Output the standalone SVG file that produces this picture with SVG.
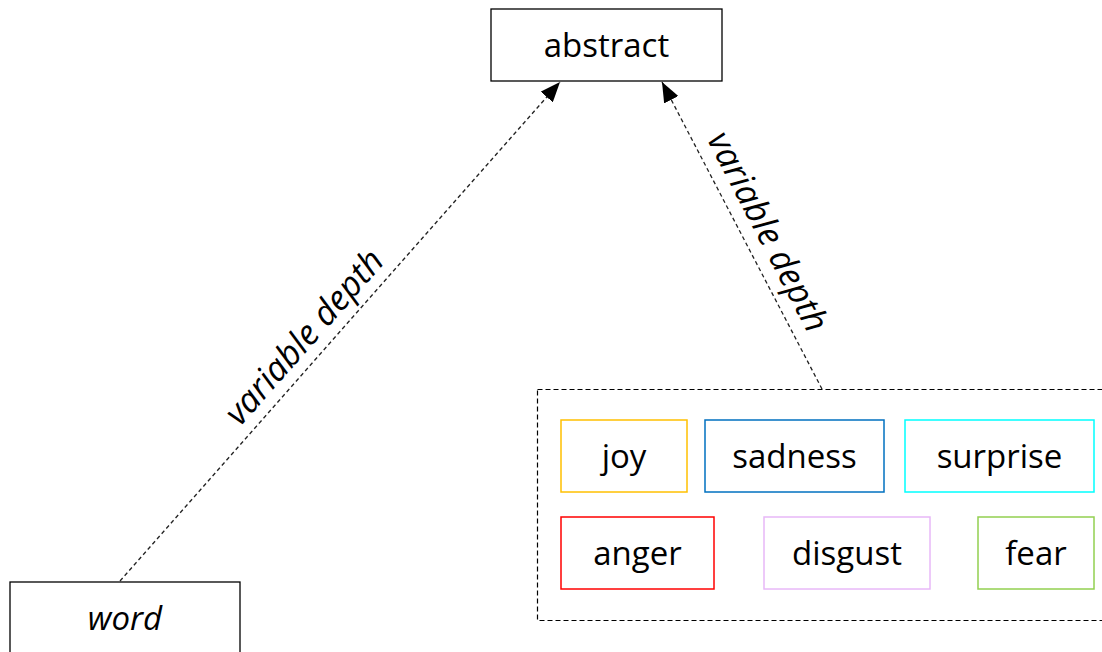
<svg xmlns="http://www.w3.org/2000/svg" width="1102" height="652" viewBox="0 0 1102 652">
  <style>
    .box { fill: #ffffff; stroke: #000000; stroke-width: 1.3; }
    .emo { fill: #ffffff; stroke-width: 1.5; }
    .lbl { font-family: "Open Sans", "Noto Sans", sans-serif; font-size: 33px; fill: #000000; text-anchor: middle; }
    .it { font-style: italic; }
    .edge { font-size: 34.5px; }
    .dash { fill: none; stroke: #222222; stroke-width: 1.3; stroke-dasharray: 4 3; }
    .frame { fill: none; stroke: #000000; stroke-width: 1.2; stroke-dasharray: 5 3; }
  </style>
  <defs>
    <marker id="tri" viewBox="0 0 20 16" refX="20" refY="8" markerWidth="20" markerHeight="16" markerUnits="userSpaceOnUse" orient="auto">
      <path d="M0,0 L20,8 L0,16 Z" fill="#000000"/>
    </marker>
  </defs>
  <rect width="1102" height="652" fill="#ffffff"/>

  <g id="connectors">
    <line class="dash" x1="120" y1="581" x2="560" y2="82" marker-end="url(#tri)"/>
    <line class="dash" x1="822" y1="389" x2="662" y2="82" marker-end="url(#tri)"/>
    <g transform="translate(321,352) rotate(-48.6)">
      <text class="lbl it edge" x="0" y="-11">variable depth</text>
    </g>
    <g transform="translate(746,243) rotate(62.5)">
      <text class="lbl it edge" x="0" y="-13">variable depth</text>
    </g>
  </g>

  <g id="abstract">
    <rect class="box" x="491" y="9" width="231" height="72"/>
    <text class="lbl" x="606.5" y="57">abstract</text>
  </g>

  <g id="word">
    <rect class="box" x="10" y="582" width="230" height="90"/>
    <text class="lbl it" x="125" y="630">word</text>
  </g>

  <g id="emotions">
    <rect class="frame" x="537.5" y="389.5" width="580" height="231"/>
    <g id="joy">
      <rect class="emo" x="561" y="420" width="126" height="72" stroke="#FFC000"/>
      <text class="lbl" x="624" y="468">joy</text>
    </g>
    <g id="sadness">
      <rect class="emo" x="705" y="420" width="179" height="72" stroke="#0070C0"/>
      <text class="lbl" x="794.5" y="468">sadness</text>
    </g>
    <g id="surprise">
      <rect class="emo" x="905" y="420" width="189" height="72" stroke="#00FFFF"/>
      <text class="lbl" x="999.5" y="468">surprise</text>
    </g>
    <g id="anger">
      <rect class="emo" x="561" y="517" width="153" height="72" stroke="#FF0000"/>
      <text class="lbl" x="637.5" y="565">anger</text>
    </g>
    <g id="disgust">
      <rect class="emo" x="764" y="517" width="166" height="72" stroke="#E8B8F8"/>
      <text class="lbl" x="847" y="565">disgust</text>
    </g>
    <g id="fear">
      <rect class="emo" x="978" y="517" width="116" height="72" stroke="#92D050"/>
      <text class="lbl" x="1036" y="565">fear</text>
    </g>
  </g>
</svg>
